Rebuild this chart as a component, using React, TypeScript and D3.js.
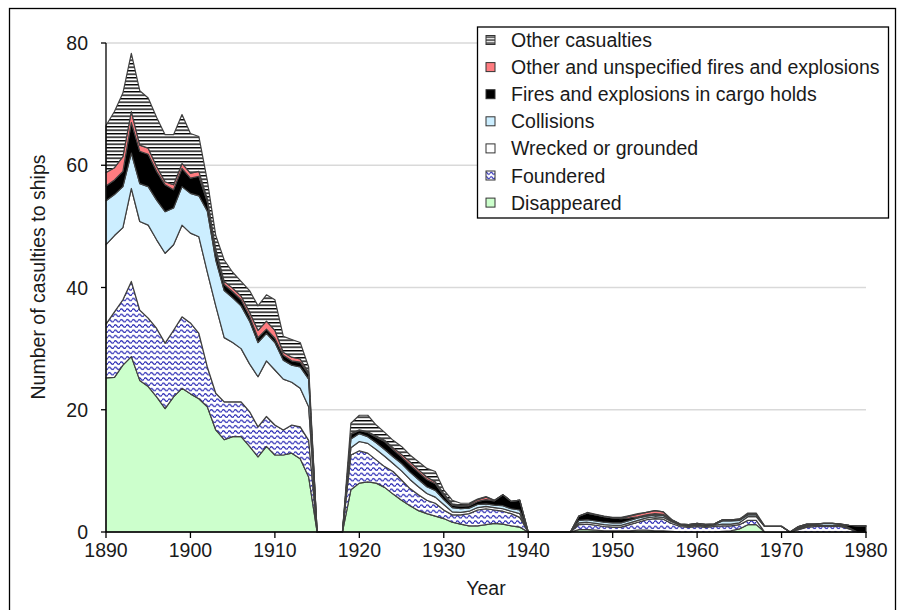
import React from "react";
import * as d3 from "d3";

const years = d3.range(1890, 1981);

const disappeared = [
  25.2, 25.3, 27.3, 28.7, 24.8, 23.8, 22.1, 20.2, 22.1, 23.5,
  22.6, 21.8, 20.5, 16.7, 15.1, 15.6, 15.6, 14, 12.3, 14,
  12.6, 12.6, 12.9, 12, 9, 0, 0, 0, 0, 6.9,
  8, 8.2, 8, 7.3, 6.2, 5.2, 4.3, 3.5, 3, 2.6,
  2.2, 1.6, 1.3, 1, 1, 1.2, 1.4, 1.3, 1, 0.8,
  0, 0, 0, 0, 0, 0, 0.4, 0.4, 0.3, 0.2,
  0.2, 0.2, 0.2, 0.3, 0.3, 0.2, 0.2, 0.1, 0, 0,
  0, 0, 0, 0.1, 0.2, 0.5, 1.2, 1.2, 0, 0,
  0, 0, 0, 0, 0, 0, 0, 0, 0, 0, 0,
];
const foundered = [
  8.8, 10.7, 10.7, 12.3, 11.5, 11.2, 11.2, 10.7, 10.9, 11.7,
  11.6, 10.7, 6.5, 6, 6.2, 5.7, 5.7, 5.7, 4.9, 4.9,
  4.9, 4.1, 4.6, 5.2, 6, 0, 0, 0, 0, 5.7,
  5.3, 4.7, 3.8, 3.4, 3.7, 3.3, 2.8, 2.6, 2.2, 2.1,
  1.4, 1.2, 1.5, 2, 2.6, 2.6, 2.2, 2.1, 2, 1.6,
  0, 0, 0, 0, 0, 0, 0.8, 0.9, 0.8, 0.7,
  0.6, 0.6, 1, 1.3, 1.7, 2, 1.9, 1.3, 0.9, 0.8,
  0.9, 0.8, 0.9, 0.9, 0.8, 0.7, 0.7, 0.7, 0, 0,
  0, 0, 0.4, 0.8, 0.9, 0.9, 0.9, 0.9, 0.5, 0, 0,
];
const wrecked = [
  13, 12.5, 11.8, 15.2, 14.5, 15.2, 14.5, 14.7, 14, 15,
  14.7, 15.8, 15.5, 14.3, 10.5, 9.7, 8.7, 7.8, 8.2, 9.1,
  9, 8.3, 7, 6.3, 5.5, 0, 0, 0, 0, 1.2,
  1.5, 1.6, 1.7, 1.7, 1.3, 1.5, 1.5, 1.3, 1.1, 1,
  0.9, 0.5, 0.4, 0.4, 0.4, 0.4, 0.4, 0.4, 0.4, 0.6,
  0, 0, 0, 0, 0, 0, 0.3, 0.3, 0.3, 0.3,
  0.3, 0.3, 0.3, 0.3, 0.3, 0.3, 0.3, 0.3, 0.2, 0.2,
  0.2, 0.2, 0.2, 0.3, 0.3, 0.3, 0.6, 0.6, 0.9, 0.9,
  0.9, 0, 0.2, 0.2, 0.2, 0.2, 0.2, 0.2, 0.1, 0, 0,
];
const collisions = [
  7.2, 6.7, 6.7, 5.8, 6.2, 6.3, 6.5, 6.8, 6, 6.3,
  6.5, 6.7, 10, 7.5, 7.7, 7.3, 7, 7, 5.6, 4.5,
  4.5, 3.1, 2.8, 3.5, 4.5, 0, 0, 0, 0, 1.4,
  1.3, 1.1, 1.1, 1.1, 1.1, 1.2, 1.2, 1.2, 1.1, 1.1,
  0.8, 0.7, 0.6, 0.5, 0.5, 0.4, 0.4, 0.5, 0.4, 0.6,
  0, 0, 0, 0, 0, 0, 0.4, 0.4, 0.4, 0.4,
  0.4, 0.4, 0.4, 0.4, 0.3, 0.3, 0.3, 0.2, 0.1, 0.1,
  0.2, 0.1, 0.1, 0.5, 0.5, 0.4, 0.3, 0.3, 0, 0,
  0, 0, 0.1, 0.2, 0.2, 0.3, 0.3, 0.2, 0.1, 0, 0,
];
const cargoFires = [
  2.4, 2.4, 2.5, 5, 5.3, 5.3, 4.7, 4.4, 3, 3,
  2.5, 3.2, 1.5, 1.3, 1, 1, 1, 0.8, 0.8, 0.7,
  0.7, 0.8, 0.7, 0.8, 0.8, 0, 0, 0, 0, 0.8,
  0.5, 0.7, 0.9, 1.3, 1.2, 1.1, 1.2, 1.2, 1.2, 1.1,
  0.7, 0.4, 0.4, 0.4, 0.5, 0.7, 0.7, 1.8, 1.2, 1.6,
  0, 0, 0, 0, 0, 0, 0.7, 1.1, 1, 0.9,
  0.8, 0.7, 0.4, 0.2, 0.2, 0.2, 0.2, 0.1, 0.1, 0.1,
  0.1, 0.1, 0.1, 0.2, 0.2, 0.2, 0.1, 0.1, 0, 0,
  0, 0, 0.2, 0.1, 0, 0, 0, 0, 0.4, 1, 1,
];
const otherFires = [
  2.2, 2, 2.4, 1.8, 1, 1, 0.8, 0.5, 0.8, 0.8,
  0.8, 0.8, 0.5, 0.5, 0.5, 0.6, 0.6, 0.7, 1.2, 1.3,
  1.3, 0.5, 0.6, 0.5, 0.3, 0, 0, 0, 0, 0.1,
  0.1, 0.1, 0.2, 0.2, 0.3, 0.4, 0.5, 0.4, 0.4, 0.3,
  0.3, 0.2, 0.2, 0.2, 0.3, 0.4, 0.1, 0, 0, 0,
  0, 0, 0, 0, 0, 0, 0, 0, 0, 0,
  0, 0.1, 0.3, 0.4, 0.4, 0.5, 0.4, 0, 0, 0,
  0, 0, 0, 0, 0, 0, 0, 0, 0, 0,
  0, 0, 0, 0, 0, 0, 0, 0, 0, 0, 0,
];
const otherCasualties = [
  7.7, 9.2, 10.4, 9.5, 8.9, 8.2, 8, 7.7, 8.2, 8,
  6.5, 5.7, 3, 2.2, 3.5, 2.6, 2.4, 3.5, 4, 4.3,
  5, 2.6, 2.9, 2.7, 0.9, 0, 0, 0, 0, 1.7,
  2.4, 2.7, 1.8, 1.3, 1.2, 1.3, 1.1, 1.3, 1.4, 1.7,
  0.6, 0.6, 0.3, 0.2, 0.1, 0.1, 0, 0, 0, 0,
  0, 0, 0, 0, 0, 0, 0, 0.1, 0.1, 0.1,
  0.1, 0.1, 0.1, 0.1, 0, 0, 0, 0, 0, 0,
  0, 0.1, 0, 0, 0, 0, 0.2, 0.2, 0.1, 0.1,
  0.1, 0, 0, 0, 0, 0, 0, 0, 0, 0, 0,
];

const keys = ["disappeared", "foundered", "wrecked", "collisions", "cargoFires", "otherFires", "otherCasualties"];
const labels = [
  "Disappeared",
  "Foundered",
  "Wrecked or grounded",
  "Collisions",
  "Fires and explosions in cargo holds",
  "Other and unspecified fires and explosions",
  "Other casualties",
];
const fills = ["#ccffcc", "url(#waves)", "#ffffff", "#cceeff", "#000000", "#ff7c80", "url(#hlines)"];
const legendFills = ["#ccffcc", "url(#wavesSmall)", "#ffffff", "#cceeff", "#000000", "#ff7c80", "url(#hlinesSmall)"];

const yTicks = [0, 20, 40, 60, 80];
const xTicks = [1890, 1900, 1910, 1920, 1930, 1940, 1950, 1960, 1970, 1980];

export default function App() {
  const font = "'Liberation Sans', Arial, sans-serif";
  const fs = 19.5;
  const x = d3.scaleLinear().domain([1890, 1980]).range([106, 866]);
  const y = d3.scaleLinear().domain([0, 80]).range([532, 43]);
  const cols: Record<string, number[]> = {
    disappeared, foundered, wrecked, collisions, cargoFires, otherFires, otherCasualties,
  };
  const table = years.map((yr, i) => {
    const row: any = { year: yr };
    keys.forEach((k) => (row[k] = cols[k][i]));
    return row;
  });
  const stacked = d3.stack<any>().keys(keys)(table);
  const area = d3
    .area<any>()
    .x((d) => x(d.data.year))
    .y0((d) => y(d[0]))
    .y1((d) => y(d[1]));

  const legendRowsTopDown = [6, 5, 4, 3, 2, 1, 0];

  return (
    <svg
      width={902}
      height={610}
      style={{ position: "absolute", left: 0, top: 0, background: "#fff" }}
      fontFamily={font}
    >
      <defs>
        <pattern id="hlines" patternUnits="userSpaceOnUse" width={8} height={3.5}>
          <rect width={8} height={3.5} fill="#fff" />
          <rect y={0} width={8} height={1.4} fill="#000" />
        </pattern>
        <pattern id="hlinesSmall" patternUnits="userSpaceOnUse" width={8} height={3} x={0} y={0.5}>
          <rect width={8} height={3} fill="#fff" />
          <rect y={0} width={8} height={1.2} fill="#000" />
        </pattern>
        <pattern id="waves" patternUnits="userSpaceOnUse" width={6} height={5.3}>
          <rect width={6} height={5.3} fill="#fff" />
          <path d="M0,2.7 Q1.5,0.3 3,2.7 T6,2.7" fill="none" stroke="#2a2ab4" strokeWidth={1.25} />
        </pattern>
        <pattern id="wavesSmall" patternUnits="userSpaceOnUse" width={5} height={4.5}>
          <rect width={5} height={4.5} fill="#fff" />
          <path d="M0,2.3 Q1.25,0.3 2.5,2.3 T5,2.3" fill="none" stroke="#2a2ab4" strokeWidth={1.1} />
        </pattern>
      </defs>

      {/* outer frame */}
      <rect x={9.5} y={8.5} width={886} height={615} fill="none" stroke="#000" strokeWidth={1.3} />

      {/* gridlines */}
      {yTicks
        .filter((t) => t > 0)
        .map((t) => (
          <line key={t} x1={x(1890)} x2={x(1980)} y1={y(t)} y2={y(t)} stroke="#d9d9d9" strokeWidth={1.5} />
        ))}

      {/* areas */}
      {stacked.map((s, i) => (
        <path
          key={keys[i]}
          d={area(s) || ""}
          fill={fills[i]}
          stroke="#404040"
          strokeWidth={1.2}
          strokeLinejoin="round"
        />
      ))}

      {/* axes */}
      <line x1={x(1890)} x2={x(1890)} y1={y(80)} y2={y(0)} stroke="#000" strokeWidth={1.3} />
      <line x1={x(1890)} x2={x(1980)} y1={y(0)} y2={y(0)} stroke="#000" strokeWidth={1.3} />
      {xTicks.map((t) => (
        <g key={t}>
          <line x1={x(t)} x2={x(t)} y1={y(0)} y2={y(0) + 6} stroke="#000" strokeWidth={1.3} />
          <text x={x(t)} y={557} textAnchor="middle" fontSize={fs} fill="#1a1a1a">
            {t}
          </text>
        </g>
      ))}
      {yTicks.map((t) => (
        <g key={t}>
          <line x1={x(1890) - 5} x2={x(1890)} y1={y(t)} y2={y(t)} stroke="#000" strokeWidth={1.3} />
          <text x={88} y={y(t) + 7} textAnchor="end" fontSize={fs} fill="#1a1a1a">
            {t}
          </text>
        </g>
      ))}
      <text x={486} y={595} textAnchor="middle" fontSize={fs} fill="#1a1a1a">
        Year
      </text>
      <text
        transform={`translate(45,277) rotate(-90)`}
        textAnchor="middle"
        fontSize={fs}
        fill="#1a1a1a"
      >
        Number of casulties to ships
      </text>

      {/* legend */}
      <rect x={477.5} y={27} width={411} height={191} fill="#fff" stroke="#000" strokeWidth={1.3} />
      {legendRowsTopDown.map((si, r) => {
        const cy = 40 + r * 27.1;
        return (
          <g key={si}>
            <rect x={486} y={cy - 4.5} width={9} height={9} fill={legendFills[si]} stroke="#333" strokeWidth={1} />
            <text x={511} y={cy + 7} fontSize={fs} fill="#1a1a1a">
              {labels[si]}
            </text>
          </g>
        );
      })}
    </svg>
  );
}
